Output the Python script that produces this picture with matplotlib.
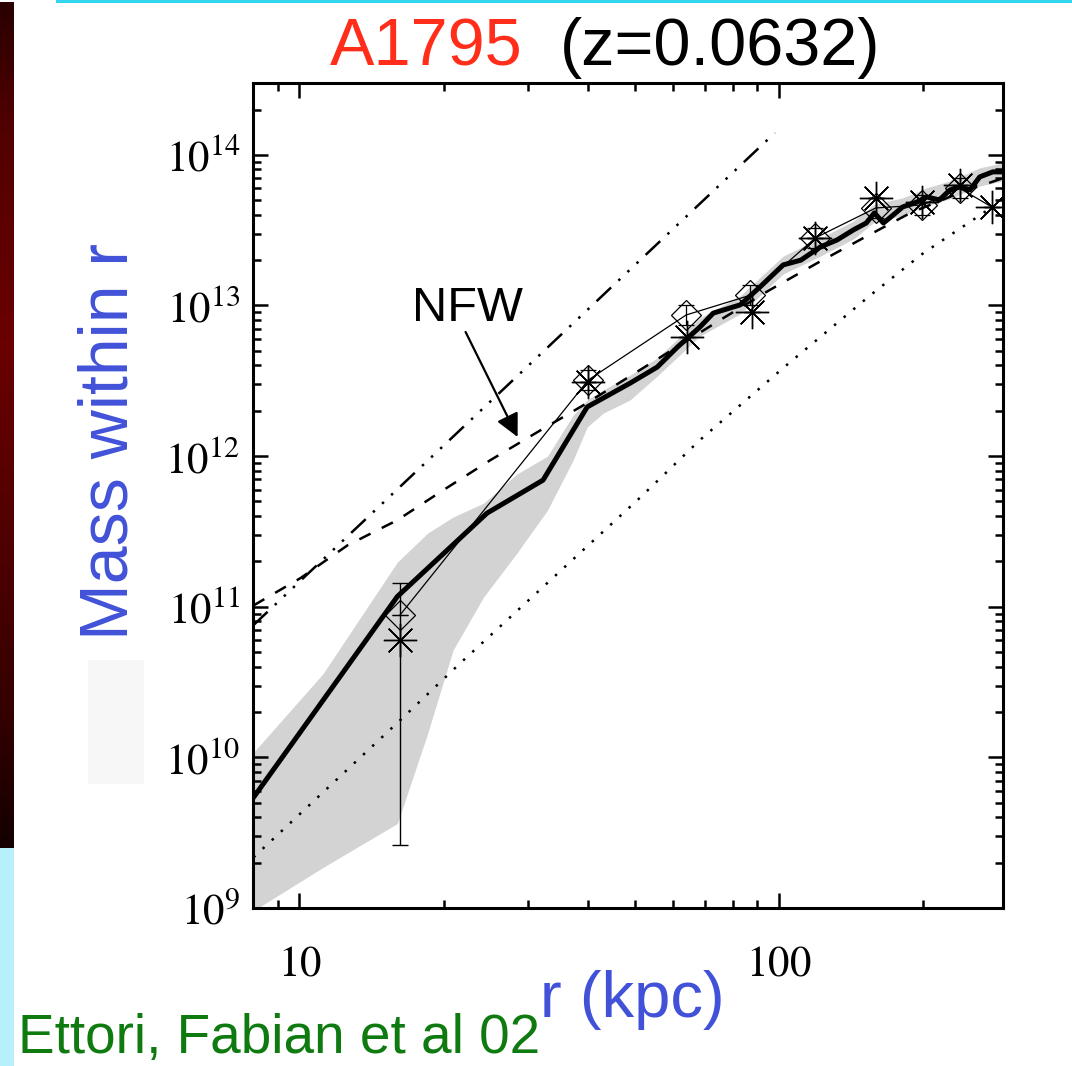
import numpy as np
import matplotlib
matplotlib.use("Agg")
import matplotlib.pyplot as plt
from matplotlib.patches import Rectangle
from matplotlib.colors import LinearSegmentedColormap
from matplotlib.ticker import FuncFormatter, LogLocator, NullFormatter

plt.rcParams['font.family'] = ['Liberation Sans', 'DejaVu Sans']
plt.rcParams['mathtext.fontset'] = 'stix'

# deprojected gas mass profile (thick line)
r_mass = [8.02, 16.0, 24.6, 32.2, 39.8, 48.9, 55.7, 61.4, 68.4, 72.9, 83.0, 91.3,
          102, 111, 122, 132, 143, 152, 158, 165, 170, 181, 194, 203, 216, 227,
          238, 250, 262, 279, 293]
m_mass = [5.42e9, 1.17e11, 4.18e11, 6.93e11, 2.12e12, 3.05e12, 3.90e12, 5.30e12,
          7.20e12, 8.9e12, 1.01e13, 1.33e13, 1.86e13, 2.00e13, 2.45e13, 2.72e13,
          3.18e13, 3.53e13, 4.12e13, 3.53e13, 3.81e13, 4.51e13, 4.87e13, 5.26e13,
          5.02e13, 5.85e13, 6.12e13, 5.85e13, 7.14e13, 7.71e13, 7.71e13]

# 1-sigma envelope
r_band = [8.02, 11.2, 16.0, 18.5, 20.9, 24.2, 28.4, 32.9, 37.2, 39.8, 43.0, 48.9,
          55.7, 68.4, 83.0, 102, 122, 143, 158, 181, 203, 227, 262, 293]
m_band_hi = [1.08e10, 3.6e10, 1.98e11, 3.08e11, 3.94e11, 4.87e11, 7.6e11, 1.0e12,
             1.87e12, 2.36e12, 2.75e12, 3.45e12, 4.48e12, 8.26e12, 1.16e13, 2.13e13,
             2.81e13, 3.64e13, 4.72e13, 5.18e13, 6.04e13, 6.71e13, 8.2e13, 8.85e13]
m_band_lo = [9.6e8, 1.86e9, 3.64e9, 1.44e10, 5.14e10, 1.16e11, 2.27e11, 4.38e11,
             9.4e11, 1.56e12, 1.93e12, 2.36e12, 3.40e12, 6.27e12, 8.8e12, 1.62e13,
             2.13e13, 2.77e13, 3.59e13, 3.94e13, 4.58e13, 5.11e13, 6.22e13, 6.71e13]

# NFW fit (dashed)
r_nfw = [8.02, 10.05, 12.6, 16.0, 19.95, 25.0, 31.3, 39.1, 48.2, 75.3, 95.7,
         120, 150, 188, 238, 293]
m_nfw = [1.02e11, 1.55e11, 2.56e11, 3.76e11, 5.95e11, 9.4e11, 1.44e12, 2.18e12,
         3.3e12, 8.0e12, 1.27e13, 1.91e13, 2.81e13, 4.12e13, 5.6e13, 7.0e13]

# constant-density profile (dash-dot-dot-dot)
r_const = [8.0, 98.0]
m_const = [7.5e10, 1.4e14]

# gas mass (dotted)
r_gas = [8.02, 16.2, 21.6, 51.3, 68.4, 102, 155, 200, 278]
m_gas = [2.17e9, 1.76e10, 4.2e10, 5.3e11, 1.28e12, 3.85e12, 1.17e13, 2.23e13, 4.5e13]

# spectral deprojection points (diamonds)
r_dia = [16.2, 40.0, 64.0, 87.1, 119, 159, 199, 238]
m_dia = [8.8e10, 3.2e12, 8.65e12, 1.17e13, 2.81e13, 4.44e13, 4.65e13, 6.0e13]
m_dia_lo = [8.8e10, 2.74e12, 7.42e12, 1.0e13, 2.41e13, 3.81e13, 3.99e13, 5.15e13]
m_dia_hi = [8.8e10, 3.73e12, 1.01e13, 1.36e13, 3.28e13, 5.18e13, 5.42e13, 7.0e13]

# hydrostatic points (asterisks)
r_ast = [16.2, 40.0, 64.2, 87.9, 119, 159, 199, 238, 278]
m_ast = [6.0e10, 3.1e12, 6.2e12, 9.1e12, 2.8e13, 5.18e13, 4.87e13, 6.3e13, 4.5e13]
m_ast_lo = [2.6e9, 3.1e12, 6.2e12, 9.1e12, 2.8e13, 5.18e13, 4.87e13, 6.3e13, 4.5e13]
m_ast_hi = [1.43e11, 3.1e12, 6.2e12, 9.1e12, 2.8e13, 5.18e13, 4.87e13, 6.3e13, 4.5e13]

W, H = 1072, 1066
fig = plt.figure(figsize=(W / 100, H / 100), dpi=100)
fig.patch.set_facecolor('white')

# slide decorations
strip = fig.add_axes([0, 1 - 848 / H, 14 / W, 846 / H])
cmap = LinearSegmentedColormap.from_list(
    'strip', [(0.0, '#2a0000'), (0.15, '#520000'), (0.4, '#6a0000'),
              (0.65, '#4e0000'), (0.85, '#330000'), (1.0, '#140000')])
strip.imshow(np.linspace(0, 1, 200)[:, None], aspect='auto', cmap=cmap)
strip.axis('off')
fig.add_artist(Rectangle((0, 0), 14 / W, 1 - 848 / H, transform=fig.transFigure,
                         color='#b5f0fc', lw=0))
fig.add_artist(Rectangle((56 / W, 1 - 2.5 / H), 1 - 56 / W, 2.5 / H,
                         transform=fig.transFigure, color='#33d6ee', lw=0))
fig.add_artist(Rectangle((88 / W, 1 - 784 / H), 56 / W, 124 / H,
                         transform=fig.transFigure, color='#f7f7f7', lw=0))

ax = fig.add_axes([253 / W, 1 - 908 / H, 750 / W, 825 / H])
ax.set_xscale('log')
ax.set_yscale('log')
ax.set_xlim(8, 293)
ax.set_ylim(1e9, 3e14)

ax.fill_between(r_band, m_band_lo, m_band_hi, color='#d3d3d3', lw=0, zorder=1)
ax.plot(r_gas, m_gas, color='black', lw=1.8, ls=(0, (1, 4)), zorder=2)
ax.plot(r_const, m_const, color='black', lw=1.8,
        ls=(0, (8, 4, 1, 4, 1, 4, 1, 4)), zorder=2)
ax.plot(r_nfw, m_nfw, color='black', lw=1.8, ls=(0, (5, 5)), zorder=2)
ax.plot(r_mass, m_mass, color='black', lw=3.6, zorder=3, solid_joinstyle='round')

# thin line joining the diamond points, closing on the last asterisk
ax.plot(r_dia, m_dia, color='black', lw=0.9, zorder=4)
ax.plot([r_dia[-1], r_ast[-1]], [m_dia[-1], m_ast[-1]], color='black', lw=0.9, zorder=4)
ax.errorbar(r_dia, m_dia,
            yerr=[np.array(m_dia) - np.array(m_dia_lo), np.array(m_dia_hi) - np.array(m_dia)],
            fmt='D', ms=15, mfc='none', mec='black', mew=0.9, ecolor='black',
            elinewidth=0.9, capsize=6, capthick=0.9, zorder=5)
ax.errorbar(r_ast, m_ast,
            yerr=[np.array(m_ast) - np.array(m_ast_lo), np.array(m_ast_hi) - np.array(m_ast)],
            fmt='none', ecolor='black', elinewidth=1.0, capsize=6, capthick=1.0, zorder=5)
ax.plot(r_ast, m_ast, ls='none', marker=(8, 2, 0), ms=24, mec='black', mew=1.0, zorder=6)

ax.text(22.4, 9.6e12, 'NFW', fontsize=35, ha='center', va='center', zorder=7)
ax.annotate('', xy=(28.5, 1.34e12), xytext=(22.2, 6.67e12),
            arrowprops=dict(arrowstyle='-|>,head_length=0.7,head_width=0.35',
                            color='black', lw=1.6, mutation_scale=20,
                            shrinkA=0, shrinkB=0), zorder=7)

# axes in the IDL style: inward ticks on all four sides
for s in ax.spines.values():
    s.set_linewidth(2.2)
ax.xaxis.set_major_locator(LogLocator(base=10, numticks=10))
ax.xaxis.set_minor_locator(LogLocator(base=10, subs=np.arange(2, 10), numticks=10))
ax.yaxis.set_major_locator(LogLocator(base=10, numticks=10))
ax.yaxis.set_minor_locator(LogLocator(base=10, subs=np.arange(2, 10), numticks=10))
ax.xaxis.set_minor_formatter(NullFormatter())
ax.yaxis.set_minor_formatter(NullFormatter())
ax.xaxis.set_major_formatter(FuncFormatter(lambda v, p: r'$\mathrm{%d}$' % round(v)))
ax.yaxis.set_major_formatter(
    FuncFormatter(lambda v, p: r'$\mathrm{10^{%d}}$' % round(np.log10(v))))
ax.tick_params(which='both', direction='in', top=True, right=True, width=1.8)
ax.tick_params(which='major', length=11)
ax.tick_params(which='minor', length=6)
ax.tick_params(axis='y', which='major', labelsize=31, pad=9)
ax.tick_params(axis='x', which='major', labelsize=31, pad=26)

fig.text(330 / W, 1 - 65 / H, 'A1795', color='#ff2d1a', fontsize=48,
         ha='left', va='baseline')
fig.text(560 / W, 1 - 65 / H, '(z=0.0632)', color='black', fontsize=48,
         ha='left', va='baseline')
fig.text(110 / W, 1 - 442 / H, 'Mass within r', color='#4152d9', fontsize=49,
         rotation=90, ha='center', va='center')
fig.text(540 / W, 1 - 1017 / H, 'r (kpc)', color='#4152d9', fontsize=47,
         ha='left', va='baseline')
fig.text(18 / W, 1 - 1053 / H, 'Ettori, Fabian et al 02', color='#0f7a0f',
         fontsize=39.5, ha='left', va='baseline')

fig.savefig('out.png', dpi=100)
